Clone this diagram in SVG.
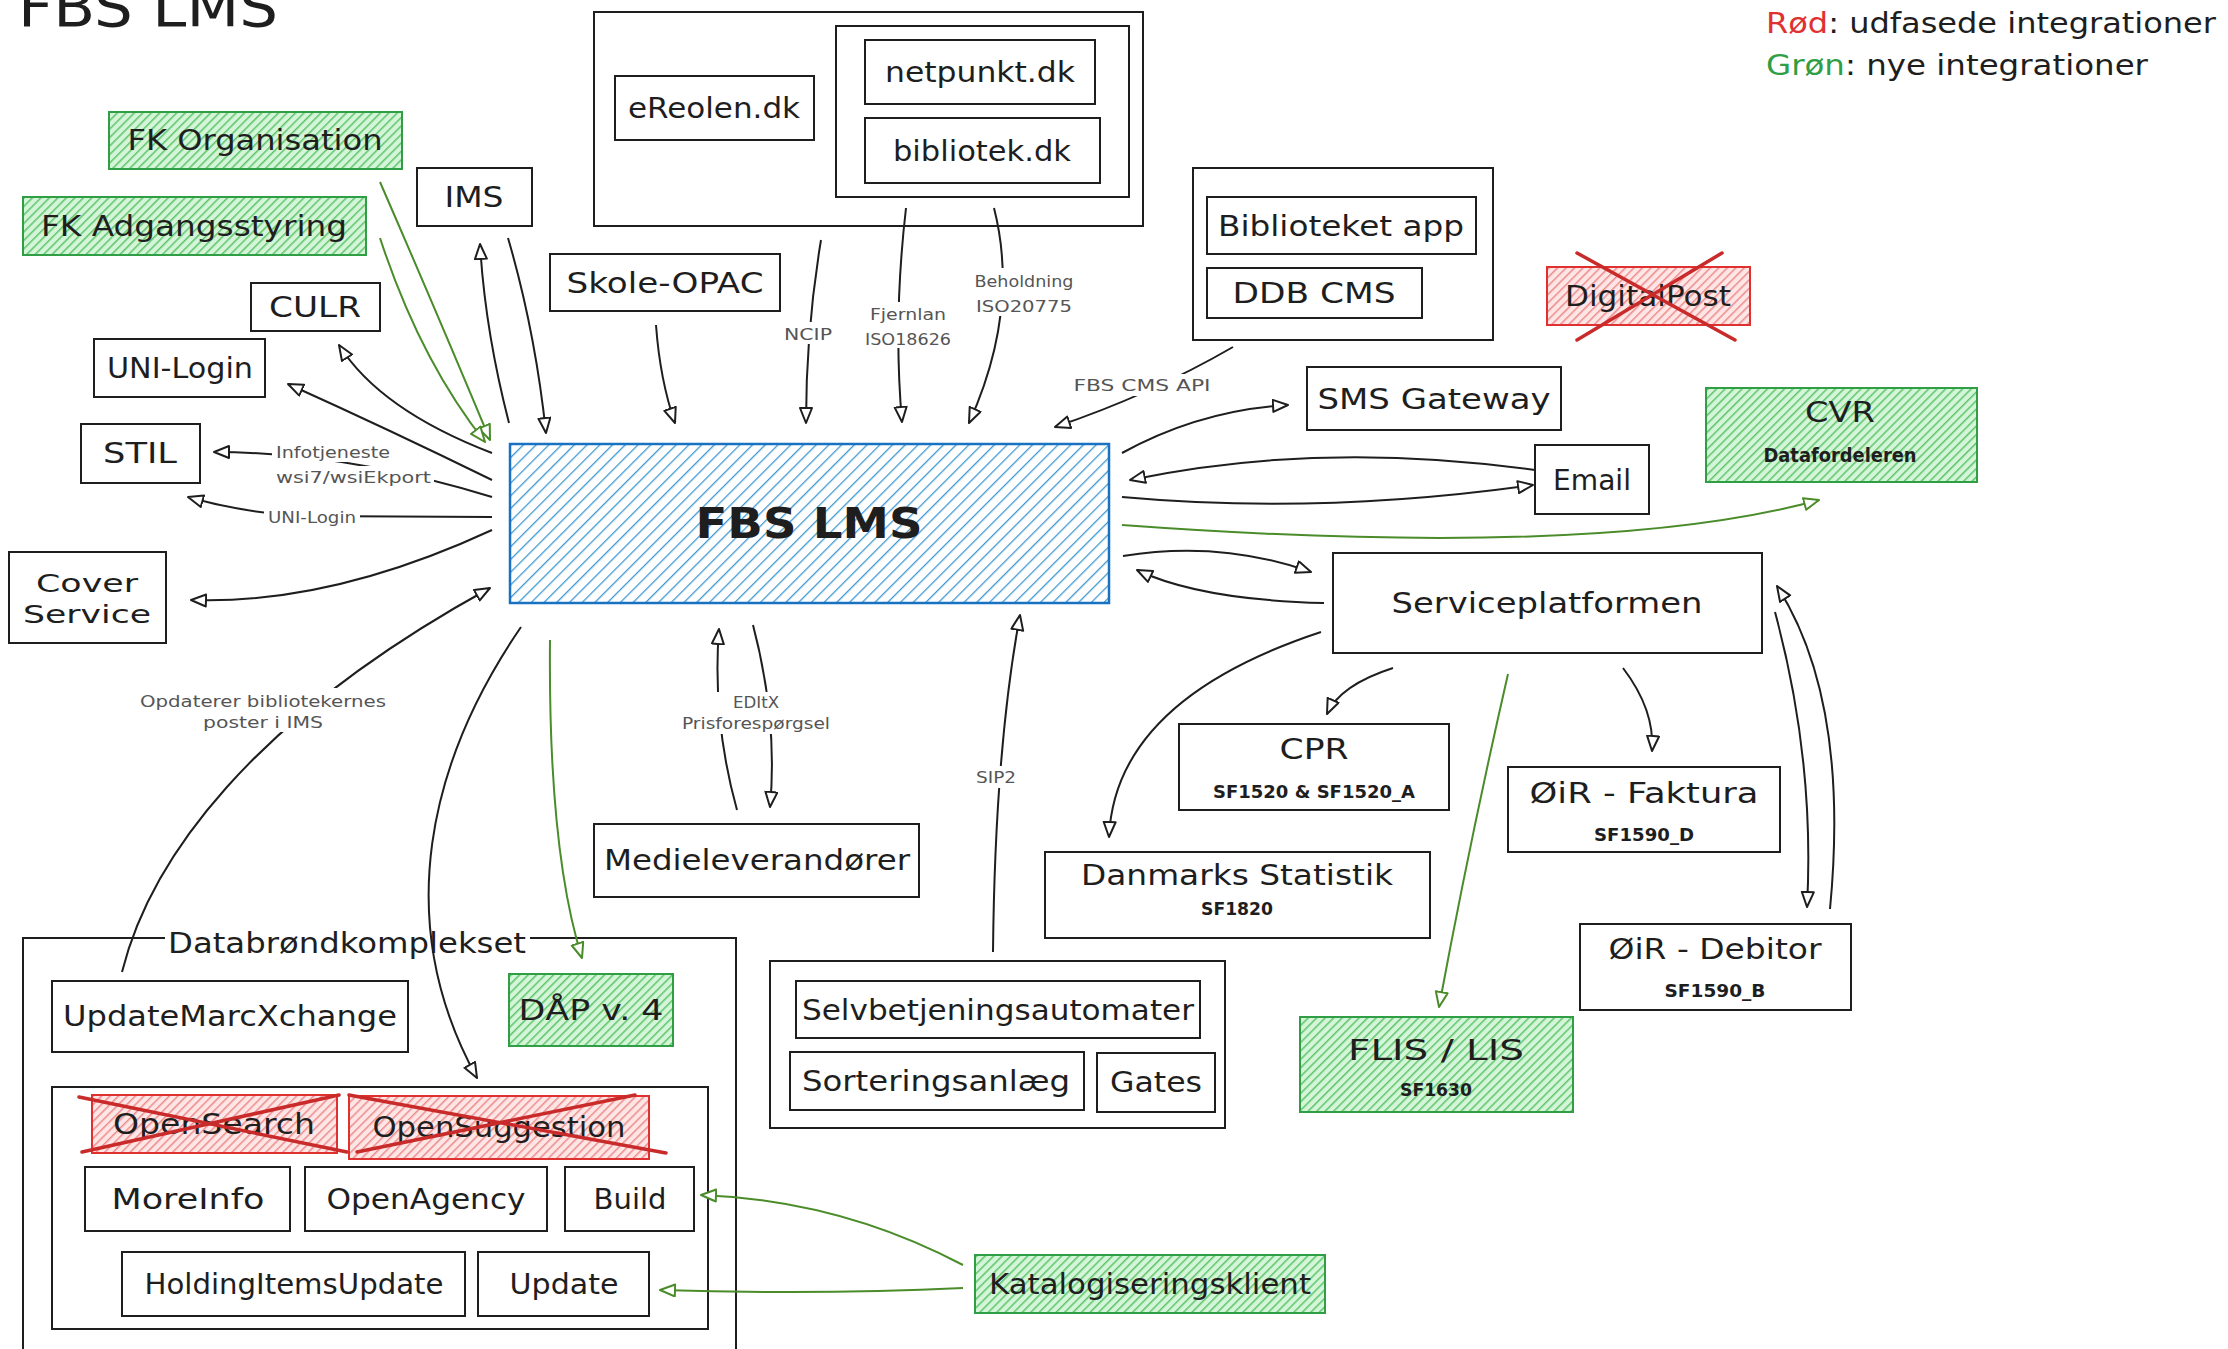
<svg xmlns="http://www.w3.org/2000/svg" width="2228" height="1349" viewBox="0 0 2228 1349">
<defs>
<pattern id="hBlue" patternUnits="userSpaceOnUse" width="9" height="9" patternTransform="rotate(45)">
<rect width="9" height="9" fill="#ffffff"/><line x1="0" y1="0" x2="0" y2="9" stroke="#3f97d0" stroke-width="2.6"/>
</pattern>
<pattern id="hGreen" patternUnits="userSpaceOnUse" width="6" height="6" patternTransform="rotate(45)">
<rect width="6" height="6" fill="#d5f5d8"/><line x1="0" y1="0" x2="0" y2="6" stroke="#5cc46a" stroke-width="3"/>
</pattern>
<pattern id="hRed" patternUnits="userSpaceOnUse" width="6" height="6" patternTransform="rotate(45)">
<rect width="6" height="6" fill="#ffe6e6"/><line x1="0" y1="0" x2="0" y2="6" stroke="#ec8a8a" stroke-width="3"/>
</pattern>
<marker id="aB" markerUnits="userSpaceOnUse" markerWidth="20" markerHeight="16" refX="16" refY="7" orient="auto">
<path d="M1,1 L16,7 L1,13 Z" fill="#ffffff" stroke="#1e1e1e" stroke-width="2" stroke-linejoin="round"/>
</marker>
<marker id="aG" markerUnits="userSpaceOnUse" markerWidth="20" markerHeight="16" refX="16" refY="7" orient="auto">
<path d="M1,1 L16,7 L1,13 Z" fill="#ffffff" stroke="#4a8c2a" stroke-width="2" stroke-linejoin="round"/>
</marker>
</defs>
<style>
.b{fill:#ffffff;stroke:#1e1e1e;stroke-width:2}
.c{fill:none;stroke:#1e1e1e;stroke-width:2}
.g{fill:url(#hGreen);stroke:#2f9e44;stroke-width:2}
.r{fill:url(#hRed);stroke:#e03131;stroke-width:2}
.x{stroke:#c92a2a;stroke-width:3.5;stroke-linecap:round}
.t{font-family:"DejaVu Sans","Liberation Sans",sans-serif;font-size:28px;fill:#1e1e1e;text-anchor:middle}
.s{font-family:"DejaVu Sans","Liberation Sans",sans-serif;font-size:17px;font-weight:bold;fill:#1e1e1e;text-anchor:middle}
.l{font-family:"DejaVu Sans","Liberation Sans",sans-serif;font-size:16px;fill:#555555;text-anchor:middle}
.k{fill:none;stroke:#1e1e1e;stroke-width:2;marker-end:url(#aB)}
.kg{fill:none;stroke:#4a8c2a;stroke-width:2;marker-end:url(#aG)}
.bg{fill:#ffffff}
</style>
<rect width="2228" height="1349" fill="#ffffff"/>

<g id="title">
<text x="18" y="26" font-family="DejaVu Sans, sans-serif" font-size="56" fill="#1e1e1e" textLength="260" lengthAdjust="spacingAndGlyphs">FBS LMS</text>
</g>
<g id="legend">
<text x="1766" y="33" class="t" style="text-anchor:start;font-size:29px" textLength="450" lengthAdjust="spacingAndGlyphs"><tspan fill="#e03131">Rød</tspan>: udfasede integrationer</text>
<text x="1766" y="75" class="t" style="text-anchor:start;font-size:29px" textLength="382" lengthAdjust="spacingAndGlyphs"><tspan fill="#2f9e44">Grøn</tspan>: nye integrationer</text>
</g>

<g id="fk-organisation"><rect class="g" x="109" y="112" width="293" height="57"/><text class="t" x="255" y="150" textLength="255" lengthAdjust="spacingAndGlyphs">FK Organisation</text></g>
<g id="fk-adgangsstyring"><rect class="g" x="23" y="197" width="343" height="58"/><text class="t" x="194" y="236" textLength="306" lengthAdjust="spacingAndGlyphs">FK Adgangsstyring</text></g>
<g id="ims"><rect class="b" x="417" y="168" width="115" height="58"/><text class="t" x="474" y="207" textLength="59" lengthAdjust="spacingAndGlyphs">IMS</text></g>
<g id="culr"><rect class="b" x="251" y="283" width="129" height="48"/><text class="t" x="315" y="317" textLength="92" lengthAdjust="spacingAndGlyphs">CULR</text></g>
<g id="uni-login"><rect class="b" x="94" y="339" width="171" height="58"/><text class="t" x="180" y="378" textLength="146" lengthAdjust="spacingAndGlyphs">UNI-Login</text></g>
<g id="stil"><rect class="b" x="81" y="424" width="119" height="59"/><text class="t" x="140" y="463" textLength="74" lengthAdjust="spacingAndGlyphs">STIL</text></g>
<g id="cover-service"><rect class="b" x="9" y="552" width="157" height="91"/><text class="t" x="87" y="592" style="font-size:25px" textLength="102" lengthAdjust="spacingAndGlyphs">Cover</text><text class="t" x="87" y="623" style="font-size:25px" textLength="128" lengthAdjust="spacingAndGlyphs">Service</text></g>
<g id="skole-opac"><rect class="b" x="550" y="254" width="230" height="57"/><text class="t" x="665" y="293" textLength="197" lengthAdjust="spacingAndGlyphs">Skole-OPAC</text></g>
<g id="web-group">
<rect class="c" x="594" y="12" width="549" height="214"/>
<g id="ereolen"><rect class="b" x="615" y="76" width="199" height="64"/><text class="t" x="714" y="118" textLength="172" lengthAdjust="spacingAndGlyphs">eReolen.dk</text></g>
<rect class="c" x="836" y="26" width="293" height="171"/>
<g id="netpunkt"><rect class="b" x="865" y="40" width="230" height="64"/><text class="t" x="980" y="82" textLength="190" lengthAdjust="spacingAndGlyphs">netpunkt.dk</text></g>
<g id="bibliotek"><rect class="b" x="865" y="118" width="235" height="65"/><text class="t" x="982" y="161" textLength="178" lengthAdjust="spacingAndGlyphs">bibliotek.dk</text></g>
</g>
<g id="app-group">
<rect class="c" x="1193" y="168" width="300" height="172"/>
<g id="biblioteket-app"><rect class="b" x="1207" y="197" width="269" height="57"/><text class="t" x="1341" y="236" textLength="246" lengthAdjust="spacingAndGlyphs">Biblioteket app</text></g>
<g id="ddb-cms"><rect class="b" x="1207" y="268" width="215" height="50"/><text class="t" x="1314" y="303" textLength="163" lengthAdjust="spacingAndGlyphs">DDB CMS</text></g>
</g>
<g id="digitalpost"><rect class="r" x="1547" y="267" width="203" height="58"/><text class="t" x="1648" y="306" textLength="166" lengthAdjust="spacingAndGlyphs">DigitalPost</text><line class="x" x1="1577" y1="253" x2="1735" y2="340"/><line class="x" x1="1722" y1="253" x2="1577" y2="340"/></g>
<g id="sms-gateway"><rect class="b" x="1307" y="367" width="254" height="63"/><text class="t" x="1434" y="409" textLength="233" lengthAdjust="spacingAndGlyphs">SMS Gateway</text></g>
<g id="email"><rect class="b" x="1535" y="445" width="114" height="69"/><text class="t" x="1592" y="490" textLength="78" lengthAdjust="spacingAndGlyphs">Email</text></g>
<g id="cvr"><rect class="g" x="1706" y="388" width="271" height="94"/><text class="t" x="1840" y="422" textLength="70" lengthAdjust="spacingAndGlyphs">CVR</text><text class="s" x="1840" y="462" style="font-size:19px" textLength="153" lengthAdjust="spacingAndGlyphs">Datafordeleren</text></g>
<g id="fbs-lms"><rect x="510" y="444" width="599" height="159" fill="url(#hBlue)" stroke="#1971c2" stroke-width="2.5"/><text x="809" y="538" font-family="DejaVu Sans, sans-serif" font-size="42" font-weight="bold" fill="#1e1e1e" text-anchor="middle" textLength="227" lengthAdjust="spacingAndGlyphs">FBS LMS</text></g>
<g id="serviceplatformen"><rect class="b" x="1333" y="553" width="429" height="100"/><text class="t" x="1547" y="613" textLength="311" lengthAdjust="spacingAndGlyphs">Serviceplatformen</text></g>
<g id="cpr"><rect class="b" x="1179" y="724" width="270" height="86"/><text class="t" x="1314" y="759" textLength="69" lengthAdjust="spacingAndGlyphs">CPR</text><text class="s" x="1314" y="798" textLength="202" lengthAdjust="spacingAndGlyphs">SF1520 &amp; SF1520_A</text></g>
<g id="oir-faktura"><rect class="b" x="1508" y="767" width="272" height="85"/><text class="t" x="1644" y="803" textLength="229" lengthAdjust="spacingAndGlyphs">ØiR - Faktura</text><text class="s" x="1644" y="841" textLength="100" lengthAdjust="spacingAndGlyphs">SF1590_D</text></g>
<g id="danmarks-statistik"><rect class="b" x="1045" y="852" width="385" height="86"/><text class="t" x="1237" y="885" textLength="312" lengthAdjust="spacingAndGlyphs">Danmarks Statistik</text><text class="s" x="1237" y="915" textLength="72" lengthAdjust="spacingAndGlyphs">SF1820</text></g>
<g id="oir-debitor"><rect class="b" x="1580" y="924" width="271" height="86"/><text class="t" x="1715" y="959" textLength="213" lengthAdjust="spacingAndGlyphs">ØiR - Debitor</text><text class="s" x="1715" y="997" textLength="101" lengthAdjust="spacingAndGlyphs">SF1590_B</text></g>
<g id="flis-lis"><rect class="g" x="1300" y="1017" width="273" height="95"/><text class="t" x="1436" y="1060" textLength="176" lengthAdjust="spacingAndGlyphs">FLIS / LIS</text><text class="s" x="1436" y="1096" textLength="72" lengthAdjust="spacingAndGlyphs">SF1630</text></g>
<g id="medieleverandorer"><rect class="b" x="594" y="824" width="325" height="73"/><text class="t" x="757" y="870" textLength="306" lengthAdjust="spacingAndGlyphs">Medieleverandører</text></g>
<g id="selvbetjening-group">
<rect class="c" x="770" y="961" width="455" height="167"/>
<g id="selvbetjeningsautomater"><rect class="b" x="796" y="981" width="404" height="57"/><text class="t" x="998" y="1020" textLength="392" lengthAdjust="spacingAndGlyphs">Selvbetjeningsautomater</text></g>
<g id="sorteringsanlaeg"><rect class="b" x="790" y="1052" width="294" height="58"/><text class="t" x="936" y="1091" textLength="268" lengthAdjust="spacingAndGlyphs">Sorteringsanlæg</text></g>
<g id="gates"><rect class="b" x="1097" y="1053" width="118" height="59"/><text class="t" x="1156" y="1092" textLength="92" lengthAdjust="spacingAndGlyphs">Gates</text></g>
</g>
<g id="katalogiseringsklient"><rect class="g" x="975" y="1255" width="350" height="58"/><text class="t" x="1150" y="1294" textLength="322" lengthAdjust="spacingAndGlyphs">Katalogiseringsklient</text></g>
<g id="databrondkomplekset">
<path class="c" d="M165,938 H23 V1360 M736,1360 V938 H530"/>
<text class="t" x="347" y="953" textLength="358" lengthAdjust="spacingAndGlyphs">Databrøndkomplekset</text>
<g id="updatemarcxchange"><rect class="b" x="52" y="981" width="356" height="71"/><text class="t" x="230" y="1026" textLength="334" lengthAdjust="spacingAndGlyphs">UpdateMarcXchange</text></g>
<g id="daap"><rect class="g" x="509" y="974" width="164" height="72"/><text class="t" x="591" y="1020" textLength="145" lengthAdjust="spacingAndGlyphs">DÅP v. 4</text></g>
<rect class="c" x="52" y="1087" width="656" height="242"/>
<g id="opensearch"><rect class="r" x="92" y="1095" width="245" height="58"/><text class="t" x="214" y="1134" textLength="202" lengthAdjust="spacingAndGlyphs">OpenSearch</text><line class="x" x1="79" y1="1097" x2="347" y2="1152"/><line class="x" x1="82" y1="1152" x2="339" y2="1095"/></g>
<g id="opensuggestion"><rect class="r" x="349" y="1096" width="300" height="63"/><text class="t" x="499" y="1137" textLength="253" lengthAdjust="spacingAndGlyphs">OpenSuggestion</text><line class="x" x1="349" y1="1095" x2="666" y2="1153"/><line class="x" x1="357" y1="1152" x2="635" y2="1095"/></g>
<g id="moreinfo"><rect class="b" x="85" y="1167" width="205" height="64"/><text class="t" x="188" y="1209" textLength="153" lengthAdjust="spacingAndGlyphs">MoreInfo</text></g>
<g id="openagency"><rect class="b" x="305" y="1167" width="242" height="64"/><text class="t" x="426" y="1209" textLength="199" lengthAdjust="spacingAndGlyphs">OpenAgency</text></g>
<g id="build"><rect class="b" x="565" y="1167" width="129" height="64"/><text class="t" x="630" y="1209" textLength="73" lengthAdjust="spacingAndGlyphs">Build</text></g>
<g id="holdingitemsupdate"><rect class="b" x="122" y="1252" width="343" height="64"/><text class="t" x="294" y="1294" textLength="299" lengthAdjust="spacingAndGlyphs">HoldingItemsUpdate</text></g>
<g id="update"><rect class="b" x="478" y="1252" width="171" height="64"/><text class="t" x="564" y="1294" textLength="109" lengthAdjust="spacingAndGlyphs">Update</text></g>
</g>

<g id="connectors">
<path class="k" d="M508,238 Q535,330 546,433"/>
<path class="k" d="M509,423 Q485,330 480,244"/>
<path class="kg" d="M380,182 Q440,320 490,440"/>
<path class="kg" d="M380,238 Q420,360 485,442"/>
<path class="k" d="M492,453 Q380,410 339,345"/>
<path class="k" d="M492,480 Q390,430 288,384"/>
<path class="k" d="M492,497 C430,478 330,452 214,452"/>
<path class="k" d="M492,517 L300,516 Q240,512 188,497"/>
<path class="k" d="M492,530 Q330,605 191,600"/>
<path class="k" d="M122,972 C150,860 250,720 490,588"/>
<path class="k" d="M521,627 C430,760 390,920 477,1078"/>
<path class="kg" d="M550,640 Q548,850 582,958"/>
<path class="k" d="M737,810 Q712,720 719,629"/>
<path class="k" d="M753,625 Q778,720 770,807"/>
<path class="k" d="M993,952 Q995,750 1020,615"/>
<path class="k" d="M656,325 Q660,380 675,423"/>
<path class="k" d="M821,240 Q806,330 806,423"/>
<path class="k" d="M906,208 Q893,320 902,422"/>
<path class="k" d="M994,208 Q1020,310 969,423"/>
<path class="k" d="M1233,347 Q1150,395 1055,427"/>
<path class="k" d="M1122,453 Q1200,410 1288,405"/>
<path class="k" d="M1535,470 Q1320,440 1130,480"/>
<path class="k" d="M1122,497 Q1320,515 1533,485"/>
<path class="kg" d="M1122,525 Q1600,560 1819,500"/>
<path class="k" d="M1123,556 Q1220,540 1311,572"/>
<path class="k" d="M1324,603 Q1200,600 1137,570"/>
<path class="k" d="M1393,668 Q1340,685 1327,714"/>
<path class="k" d="M1321,632 Q1115,700 1109,837"/>
<path class="k" d="M1623,668 Q1655,710 1652,751"/>
<path class="kg" d="M1508,674 Q1470,840 1439,1007"/>
<path class="k" d="M1775,612 Q1815,760 1807,907"/>
<path class="k" d="M1830,909 Q1850,700 1777,586"/>
<path class="kg" d="M963,1265 Q840,1200 701,1195"/>
<path class="kg" d="M963,1288 Q820,1295 660,1290"/>
<rect class="bg" x="272" y="442" width="122" height="20"/>
<text class="l" x="276" y="458" style="text-anchor:start" textLength="114" lengthAdjust="spacingAndGlyphs">Infotjeneste</text>
<rect class="bg" x="272" y="466" width="162" height="22"/>
<text class="l" x="276" y="483" style="text-anchor:start" textLength="155" lengthAdjust="spacingAndGlyphs">wsi7/wsiEkport</text>
<rect class="bg" x="264" y="506" width="96" height="22"/>
<text class="l" x="312" y="523" textLength="88" lengthAdjust="spacingAndGlyphs">UNI-Login</text>
<rect class="bg" x="136" y="688" width="254" height="44"/>
<text class="l" x="263" y="707" textLength="246" lengthAdjust="spacingAndGlyphs">Opdaterer bibliotekernes</text>
<text class="l" x="263" y="728" textLength="120" lengthAdjust="spacingAndGlyphs">poster i IMS</text>
<rect class="bg" x="680" y="692" width="152" height="42"/>
<text class="l" x="756" y="708" textLength="46" lengthAdjust="spacingAndGlyphs">EDItX</text>
<text class="l" x="756" y="729" textLength="148" lengthAdjust="spacingAndGlyphs">Prisforespørgsel</text>
<rect class="bg" x="974" y="766" width="44" height="22"/>
<text class="l" x="996" y="783" textLength="40" lengthAdjust="spacingAndGlyphs">SIP2</text>
<rect class="bg" x="782" y="322" width="50" height="22"/>
<text class="l" x="808" y="340" textLength="48" lengthAdjust="spacingAndGlyphs">NCIP</text>
<rect class="bg" x="862" y="302" width="90" height="46"/>
<text class="l" x="908" y="320" textLength="76" lengthAdjust="spacingAndGlyphs">Fjernlan</text>
<text class="l" x="908" y="345" textLength="86" lengthAdjust="spacingAndGlyphs">ISO18626</text>
<rect class="bg" x="972" y="268" width="104" height="48"/>
<text class="l" x="1024" y="287" textLength="99" lengthAdjust="spacingAndGlyphs">Beholdning</text>
<text class="l" x="1024" y="312" textLength="96" lengthAdjust="spacingAndGlyphs">ISO20775</text>
<rect class="bg" x="1072" y="374" width="142" height="22"/>
<text class="l" x="1142" y="391" textLength="137" lengthAdjust="spacingAndGlyphs">FBS CMS API</text>
</g>
</svg>
